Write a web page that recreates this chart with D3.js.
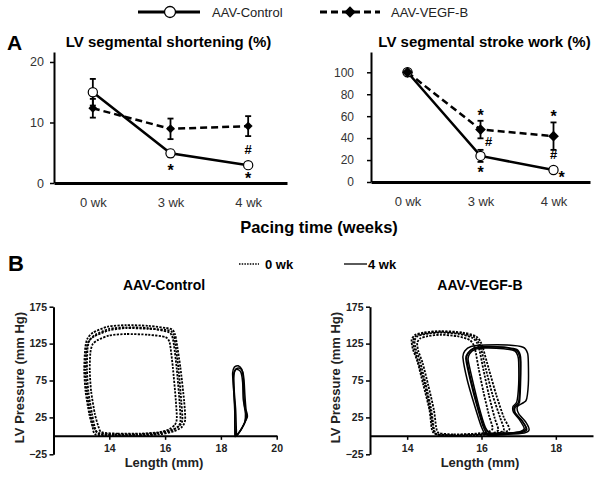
<!DOCTYPE html>
<html><head><meta charset="utf-8">
<script src="https://cdn.jsdelivr.net/npm/d3@7"></script>
<style>
body{margin:0;background:#fff}
svg{display:block;font-family:"Liberation Sans",Arial,sans-serif}
</style></head><body>
<svg id="c" width="601" height="479"></svg>
<script>
// ---------- DATA ----------
const categories = ["0 wk", "3 wk", "4 wk"];
const seriesNames = ["AAV-Control", "AAV-VEGF-B"];

const shortTicks = [0, 10, 20];
const shortCtrl = [15.0, 4.9, 2.95];
const shortCtrlErr = [2.2, 0.6, 0.35];
const shortVegf = [12.35, 8.95, 9.4];
const shortVegfErr = [1.55, 1.7, 1.65];
const shortMarks = [
  {cat: "3 wk", v: 2.6, s: "*"},
  {cat: "4 wk", v: 1.3, s: "*"},
  {cat: "4 wk", v: 5.6, s: "#"}
];

const strokeTicks = [0, 20, 40, 60, 80, 100];
const strokeCtrl = [100, 23.8, 10.9];
const strokeCtrlErr = [0, 5.5, 1];
const strokeVegf = [100, 47.8, 41.8];
const strokeVegfErr = [0, 8, 12.5];
const strokeMarks = [
  {cat: "3 wk", v: 64, s: "*"},
  {cat: "3 wk", v: 36.7, s: "#", side: "right"},
  {cat: "3 wk", v: 11.8, s: "*"},
  {cat: "4 wk", v: 63, s: "*"},
  {cat: "4 wk", v: 25.5, s: "#"},
  {cat: "4 wk", v: 7.3, s: "*", side: "right"}
];

const pressureTicks = [-25, 25, 75, 125, 175];
const ctrlLengthTicks = [14, 16, 18, 20];
const vegfLengthTicks = [14, 16, 18];

// Length (mm), Pressure (mm Hg) loops
const ctrl0wk = [
  [[13.6,3],[14.2,1],[15.0,1],[15.7,3],[16.2,7],[16.45,12],[16.55,20],[16.52,45],[16.42,90],[16.32,122],[16.25,135],[16.1,141],[15.4,146],[14.6,147],[14.0,145],[13.5,137],[13.3,130],[13.22,118],[13.2,90],[13.25,60],[13.38,30],[13.48,12]],
  [[13.5,2],[14.1,0],[15.0,0],[15.8,2],[16.3,6],[16.6,12],[16.72,22],[16.68,48],[16.55,92],[16.42,125],[16.35,138],[16.2,145],[15.4,149],[14.6,150],[13.95,148],[13.42,140],[13.22,132],[13.14,120],[13.1,90],[13.15,60],[13.28,30],[13.4,12]],
  [[13.72,5],[14.3,3],[15.1,3],[15.8,5],[16.15,9],[16.35,15],[16.42,24],[16.38,50],[16.28,92],[16.2,118],[16.15,128],[16.0,134],[15.4,137],[14.6,138],[14.0,136],[13.6,130],[13.4,124],[13.32,112],[13.3,88],[13.35,60],[13.48,30],[13.6,14]],
  [[13.62,4],[14.2,2],[15.0,2],[15.75,4],[16.25,8],[16.52,14],[16.62,22],[16.58,47],[16.48,91],[16.37,124],[16.3,137],[16.15,143],[15.4,145],[14.6,146],[14.0,143],[13.47,135],[13.26,128],[13.18,117],[13.15,90],[13.2,60],[13.32,30],[13.44,12]]
];
const ctrl4wk = [
  [[18.55,0],[18.62,3],[18.75,10],[18.9,22],[18.92,30],[18.85,40],[18.82,60],[18.8,80],[18.75,90],[18.62,95],[18.48,93],[18.42,85],[18.45,65],[18.5,40],[18.5,15],[18.52,3]],
  [[18.58,1],[18.66,5],[18.8,14],[18.95,26],[18.9,36],[18.86,55],[18.83,75],[18.78,87],[18.66,92],[18.52,90],[18.46,82],[18.48,60],[18.53,35],[18.55,12],[18.56,3]],
  [[18.52,-1],[18.6,2],[18.72,8],[18.85,18],[18.88,30],[18.8,50],[18.78,72],[18.72,86],[18.6,90],[18.5,88],[18.45,78],[18.47,55],[18.5,30],[18.5,10],[18.5,1]]
];
const vegf0wk = [
  [[14.8,2],[15.2,0],[15.8,1],[16.25,3],[16.45,8],[16.35,25],[16.2,55],[16.05,90],[15.95,115],[15.88,126],[15.75,133],[15.4,138],[14.9,140],[14.5,138],[14.28,135],[14.2,129],[14.23,118],[14.35,100],[14.5,70],[14.65,35],[14.72,10]],
  [[14.75,3],[15.15,1],[15.75,2],[16.5,4],[16.75,9],[16.6,25],[16.4,55],[16.2,90],[16.05,117],[15.98,127],[15.85,135],[15.5,140],[14.9,142],[14.45,140],[14.22,137],[14.12,130],[14.15,118],[14.28,100],[14.43,70],[14.6,35],[14.66,10]],
  [[14.85,4],[15.25,2],[15.85,3],[16.15,5],[16.3,10],[16.2,28],[16.05,60],[15.92,92],[15.85,112],[15.8,122],[15.68,130],[15.35,135],[14.9,137],[14.55,135],[14.35,132],[14.27,126],[14.3,115],[14.42,98],[14.57,68],[14.72,35],[14.78,12]],
  [[14.78,2],[15.2,0],[15.8,1],[16.35,3],[16.6,8],[16.5,25],[16.3,55],[16.12,90],[16.0,116],[15.93,126],[15.8,134],[15.45,139],[14.9,141],[14.48,139],[14.25,136],[14.16,129],[14.19,118],[14.3,100],[14.47,70],[14.62,35],[14.7,10]]
];
const vegf4wk = [
  [[16.2,2],[16.7,3],[17.1,5],[17.22,9],[17.1,20],[16.92,30],[16.9,38],[17.02,45],[17.05,70],[17.06,100],[17.04,110],[16.95,117],[16.6,120],[16.1,120],[15.78,118],[15.63,112],[15.58,104],[15.7,75],[15.88,40],[16.05,12]],
  [[16.15,1],[16.7,2],[17.15,4],[17.28,8],[17.2,18],[17.0,30],[16.97,40],[17.2,48],[17.26,70],[17.26,100],[17.24,112],[17.12,120],[16.7,123],[16.1,123],[15.72,121],[15.55,115],[15.5,106],[15.62,75],[15.82,40],[16.0,12]],
  [[16.25,3],[16.75,4],[17.05,6],[17.15,10],[17.02,22],[16.86,32],[16.85,40],[16.95,46],[17.0,70],[17.0,100],[16.98,108],[16.9,115],[16.6,118],[16.1,119],[15.82,117],[15.68,111],[15.64,103],[15.76,75],[15.93,40],[16.1,12]],
  [[16.3,3],[16.8,4],[17.1,6],[17.2,10],[17.08,21],[16.9,31],[16.88,39],[17.0,46],[17.03,70],[17.04,100],[17.02,109],[16.93,116],[16.6,120],[16.1,121],[15.8,119],[15.66,113],[15.6,105],[15.72,75],[15.9,40],[16.08,12]]
];

// ---------- DRAWING ----------
const svg = d3.select("#c");
const FONT = '"Liberation Sans",Arial,sans-serif';
const diamond = s => d3.symbol(d3.symbolSquare, s)();

// Top legend
(function(){
  const g = svg.append("g");
  g.append("line").attr("x1",138).attr("x2",200).attr("y1",12).attr("y2",12)
    .attr("stroke","#000").attr("stroke-width",3);
  g.append("circle").attr("cx",170).attr("cy",12).attr("r",5.5)
    .attr("fill","#fff").attr("stroke","#000").attr("stroke-width",1.3);
  g.append("text").attr("x",212).attr("y",16.5).attr("font-size",13).attr("fill","#222").text(seriesNames[0]);
  g.append("line").attr("x1",320).attr("x2",380).attr("y1",12).attr("y2",12)
    .attr("stroke","#000").attr("stroke-width",3).attr("stroke-dasharray","7,4");
  g.append("path").attr("transform","translate(350,12) rotate(45)")
    .attr("d", diamond(64)).attr("fill","#000");
  g.append("text").attr("x",391).attr("y",16.5).attr("font-size",13).attr("fill","#222").text(seriesNames[1]);
})();

svg.append("text").attr("x",7).attr("y",50).attr("font-size",21).attr("font-weight","bold").text("A");
svg.append("text").attr("x",8).attr("y",271).attr("font-size",22).attr("font-weight","bold").text("B");
svg.append("text").attr("x",319).attr("y",233).attr("text-anchor","middle")
  .attr("font-size",16.5).attr("font-weight","bold").text("Pacing time (weeks)");

function panelA(cfg){
  const g = svg.append("g");
  const x = d3.scalePoint().domain(categories).range([cfg.x0, cfg.x1]).padding(0.5);
  const y = d3.scaleLinear().domain([0, cfg.ymax]).range([cfg.yb, cfg.yt]);
  const ya = g.append("g").attr("transform",`translate(${cfg.x0},0)`)
    .call(d3.axisLeft(y).tickValues(cfg.ticks).tickSize(4).tickSizeOuter(0).tickPadding(cfg.tickPad));
  ya.select(".domain").attr("stroke-width",2);
  ya.selectAll(".tick line").attr("stroke-width",1.5);
  ya.selectAll("text").attr("font-size",cfg.tickFont).attr("font-family",FONT).attr("fill","#333");
  const xa = g.append("g").attr("transform",`translate(0,${cfg.yb})`)
    .call(d3.axisBottom(x).tickSize(0).tickSizeOuter(0).tickPadding(15));
  xa.select(".domain").attr("stroke-width",3);
  xa.selectAll("text").attr("font-size",13).attr("font-family",FONT).attr("fill","#333");
  g.append("text").attr("x",cfg.titleX).attr("y",47).attr("text-anchor","middle")
    .attr("font-size",15).attr("font-weight","bold").text(cfg.title);

  const line = d3.line().x((d,i)=>x(categories[i])).y(d=>y(d));
  g.append("path").datum(cfg.vegf).attr("d",line).attr("fill","none")
    .attr("stroke","#000").attr("stroke-width",2.5).attr("stroke-dasharray","7,4");
  g.append("path").datum(cfg.ctrl).attr("d",line).attr("fill","none")
    .attr("stroke","#000").attr("stroke-width",2.5);

  function errBars(vals, errs){
    vals.forEach((v,i)=>{
      if(!errs[i]) return;
      const cx = x(categories[i]);
      const eg = g.append("g").attr("stroke","#000").attr("stroke-width",1.8);
      eg.append("line").attr("x1",cx).attr("x2",cx).attr("y1",y(v-errs[i])).attr("y2",y(v+errs[i]));
      [v-errs[i], v+errs[i]].forEach(e=>{
        eg.append("line").attr("x1",cx-3).attr("x2",cx+3).attr("y1",y(e)).attr("y2",y(e));
      });
    });
  }
  errBars(cfg.vegf, cfg.vegfErr);
  errBars(cfg.ctrl, cfg.ctrlErr);

  function ctrlMarkers(){
    g.selectAll(null).data(cfg.ctrl).enter().append("circle")
      .attr("cx",(d,i)=>x(categories[i])).attr("cy",d=>y(d)).attr("r",4.6)
      .attr("fill","#fff").attr("stroke","#000").attr("stroke-width",1.2);
  }
  function vegfMarkers(){
    g.selectAll(null).data(cfg.vegf).enter().append("path")
      .attr("transform",(d,i)=>`translate(${x(categories[i])},${y(d)}) rotate(45)`)
      .attr("d", diamond(cfg.diamondSize)).attr("fill","#000");
  }
  if(cfg.vegfOnTop){ ctrlMarkers(); vegfMarkers(); } else { vegfMarkers(); ctrlMarkers(); }

  cfg.marks.forEach(m=>{
    const fs = m.s === "*" ? 16 : 13;
    const off = m.s === "*" ? 0.57 : 0.36;
    g.append("text").attr("x", x(m.cat) + (m.side === "right" ? 8 : 0))
      .attr("y", y(m.v) + off*fs).attr("text-anchor","middle")
      .attr("font-size",fs).attr("font-weight","bold").text(m.s);
  });
}

panelA({x0:54, x1:287, yb:183, yt:52, ymax:21.65, ticks:shortTicks, tickPad:6, tickFont:12.5,
  title:"LV segmental shortening (%)", titleX:168.5, diamondSize:40,
  ctrl:shortCtrl, ctrlErr:shortCtrlErr, vegf:shortVegf, vegfErr:shortVegfErr, marks:shortMarks, vegfOnTop:false});
panelA({x0:371, x1:590, yb:182, yt:52, ymax:118.5, ticks:strokeTicks, tickPad:13, tickFont:12,
  title:"LV segmental stroke work (%)", titleX:484.5, diamondSize:58,
  ctrl:strokeCtrl, ctrlErr:strokeCtrlErr, vegf:strokeVegf, vegfErr:strokeVegfErr, marks:strokeMarks, vegfOnTop:true});

// Panel B legend
(function(){
  const g = svg.append("g");
  g.append("line").attr("x1",239).attr("x2",259).attr("y1",264).attr("y2",264)
    .attr("stroke","#000").attr("stroke-width",1.3).attr("stroke-dasharray","1.5,1.2");
  g.append("text").attr("x",265).attr("y",268.5).attr("font-size",13).attr("font-weight","bold").text("0 wk");
  g.append("line").attr("x1",344).attr("x2",367).attr("y1",264).attr("y2",264)
    .attr("stroke","#000").attr("stroke-width",1.3);
  g.append("text").attr("x",368).attr("y",268.5).attr("font-size",13).attr("font-weight","bold").text("4 wk");
})();

function panelB(cfg){
  const g = svg.append("g");
  const x = d3.scaleLinear().domain(cfg.xdom).range([cfg.x0, cfg.x1]);
  const y = d3.scaleLinear().domain([-25, 175]).range([454.3, 306.7]);
  const ya = g.append("g").attr("transform",`translate(${cfg.x0},0)`)
    .call(d3.axisLeft(y).tickValues(pressureTicks).tickSize(4).tickSizeOuter(0).tickPadding(2.5));
  ya.select(".domain").attr("stroke-width",2);
  ya.selectAll(".tick line").attr("stroke-width",1.5);
  ya.selectAll("text").attr("font-size",10.5).attr("font-weight","bold").attr("font-family",FONT).attr("fill","#222");
  const xa = g.append("g").attr("transform",`translate(0,${y(0)})`)
    .call(d3.axisBottom(x).tickValues(cfg.xticks).tickFormat(d3.format("d")).tickSize(4).tickSizeOuter(0).tickPadding(4.5));
  xa.select(".domain").attr("stroke-width",2);
  xa.selectAll(".tick line").attr("stroke-width",1.5);
  xa.selectAll("text").attr("font-size",10.5).attr("font-weight","bold").attr("font-family",FONT).attr("fill","#222");

  g.append("text").attr("x",cfg.cx).attr("y",290).attr("text-anchor","middle")
    .attr("font-size",14).attr("font-weight","bold").text(cfg.title);
  g.append("text").attr("x",cfg.cx).attr("y",467).attr("text-anchor","middle")
    .attr("font-size",13).attr("font-weight","bold").attr("fill","#222").text("Length (mm)");
  g.append("text").attr("transform",`translate(${cfg.x0-30},377.5) rotate(-90)`).attr("text-anchor","middle")
    .attr("font-size",13).attr("font-weight","bold").attr("fill","#222").text("LV Pressure (mm Hg)");

  const line = d3.line().x(d=>x(d[0])).y(d=>y(d[1])).curve(d3.curveCardinalClosed.tension(0.3));
  cfg.loops0.forEach(L=>{
    g.append("path").datum(L).attr("d",line).attr("fill","none")
      .attr("stroke","#000").attr("stroke-width",1.8).attr("stroke-dasharray","2.2,1.3");
  });
  cfg.loops4.forEach(L=>{
    g.append("path").datum(L).attr("d",line).attr("fill","none")
      .attr("stroke","#000").attr("stroke-width",1.5);
  });
}

panelB({xdom:[12,20], x0:53.5, x1:276.7, xticks:ctrlLengthTicks, title:"AAV-Control", cx:164,
  loops0:ctrl0wk, loops4:ctrl4wk});
panelB({xdom:[13,19], x0:370, x1:593, xticks:vegfLengthTicks, title:"AAV-VEGF-B", cx:480,
  loops0:vegf0wk, loops4:vegf4wk});
</script>
</body></html>
